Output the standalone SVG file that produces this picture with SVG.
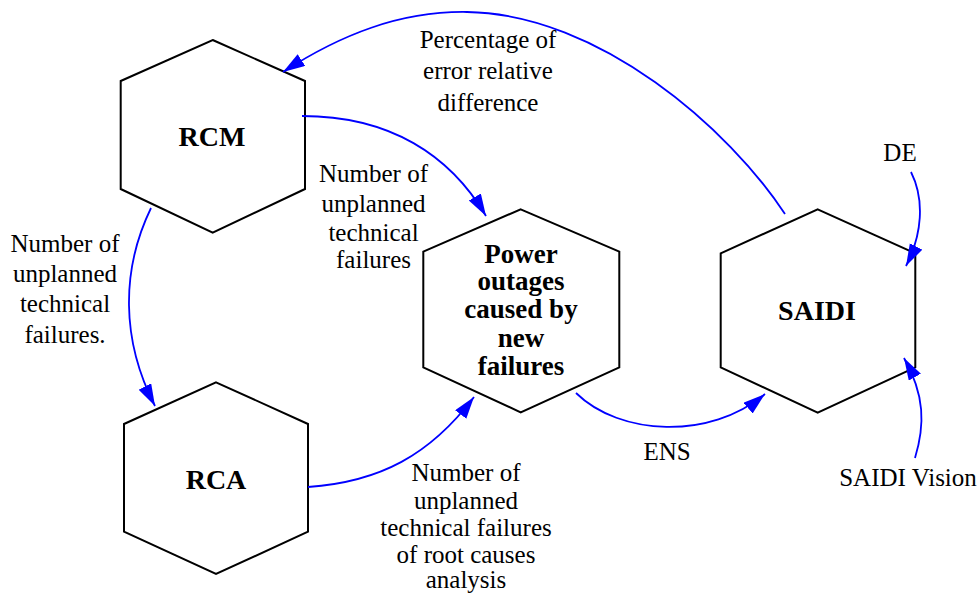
<svg xmlns="http://www.w3.org/2000/svg" width="977" height="597" viewBox="0 0 977 597" font-family="'Liberation Serif', 'Times New Roman', Tinos, 'DejaVu Serif', serif">
  <style>
    text { font-family: "Liberation Serif", "Times New Roman", Tinos, "DejaVu Serif", serif; }
    .node polygon { fill: #ffffff; stroke: #000000; stroke-width: 2; }
    .node text { font-weight: bold; font-size: 28px; text-anchor: middle; fill: #000000; }
    .node text.multi { font-size: 27px; }
    .edge path { fill: none; stroke: #0000ff; stroke-width: 1.8; marker-end: url(#arrow); }
    .label { font-size: 25px; text-anchor: middle; fill: #000000; }
  </style>
  <defs>
    <marker id="arrow" markerUnits="userSpaceOnUse" markerWidth="24" markerHeight="16" refX="22" refY="7" orient="auto" viewBox="0 0 24 16">
      <path d="M0,0 L22,7 L0,14 z" fill="#0000ff"/>
    </marker>
  </defs>

  <rect width="977" height="597" fill="#ffffff"/>

  <!-- nodes -->
  <g id="node-rcm" class="node">
    <polygon points="212.7,40 305,81 305,189 212.7,232.7 120.7,189 120.7,81"/>
    <text x="212" y="146">RCM</text>
  </g>
  <g id="node-rca" class="node">
    <polygon points="216,382.3 308,424 308,531.7 216,574 124,531.7 124,424"/>
    <text x="216" y="489">RCA</text>
  </g>
  <g id="node-power" class="node">
    <polygon points="520.7,209.3 619.3,251.7 619.3,367.3 520.7,412.3 423.3,367.3 423.3,251.7"/>
    <text class="multi" x="521" y="262.7">Power</text>
    <text class="multi" x="521" y="290">outages</text>
    <text class="multi" x="521" y="318.3">caused by</text>
    <text class="multi" x="521" y="346.7">new</text>
    <text class="multi" x="521" y="375">failures</text>
  </g>
  <g id="node-saidi" class="node">
    <polygon points="817.7,209.3 915.3,253.3 915.3,367.3 817.7,412.7 720.7,367.3 720.7,253.3"/>
    <text x="817" y="320">SAIDI</text>
  </g>

  <!-- connectors -->
  <g id="edges" class="edge">
    <path d="M785,214 C730,130 600,14 467,12 C400,11 340,35 283,72"/>
    <path d="M302,116 C390,116 450,155 486,216"/>
    <path d="M151,208 C121,270 121,340 155,406"/>
    <path d="M308,487 C380,482 430,455 474,397"/>
    <path d="M576,393 C620,436 710,440 765,394"/>
    <path d="M911,172 C925,200 922,235 906,266"/>
    <path d="M915,458 C925,425 925,395 904,358"/>
  </g>

  <!-- connector labels -->
  <g id="edge-labels">
    <text class="label" x="488" y="47.7">Percentage of</text>
    <text class="label" x="488" y="79.3">error relative</text>
    <text class="label" x="488" y="111">difference</text>

    <text class="label" x="373.5" y="181.7">Number of</text>
    <text class="label" x="373.5" y="211.5">unplanned</text>
    <text class="label" x="373.5" y="240.7">technical</text>
    <text class="label" x="373.5" y="268.3">failures</text>

    <text class="label" x="65" y="252.3">Number of</text>
    <text class="label" x="65" y="281.7">unplanned</text>
    <text class="label" x="65" y="311.7">technical</text>
    <text class="label" x="65" y="342.7">failures.</text>

    <text class="label" x="466" y="481">Number of</text>
    <text class="label" x="466" y="508.7">unplanned</text>
    <text class="label" x="466" y="535.7">technical failures</text>
    <text class="label" x="466" y="562.7">of root causes</text>
    <text class="label" x="466" y="588.3">analysis</text>

    <text class="label" x="667" y="460">ENS</text>
    <text class="label" x="900" y="160.7">DE</text>
    <text class="label" x="908" y="486">SAIDI Vision</text>
  </g>
</svg>
